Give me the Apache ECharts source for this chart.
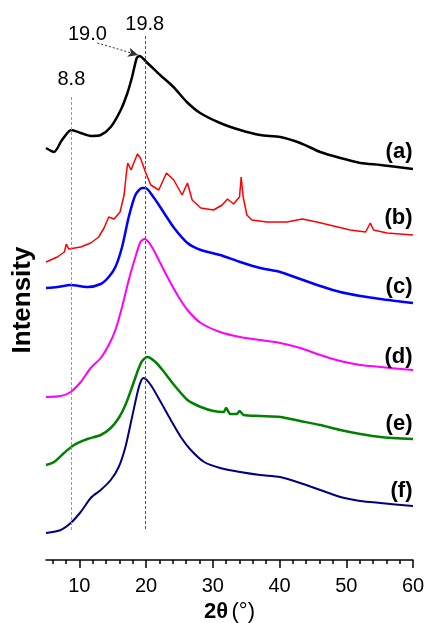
<!DOCTYPE html>
<html>
<head>
<meta charset="utf-8">
<script src="https://cdn.jsdelivr.net/npm/echarts@6/dist/echarts.min.js"></script>
<style>
html, body {margin: 0; padding: 0; background: #fff;}
#xrd {width: 427px; height: 623px;}
</style>
</head>
<body>
<div id="xrd"></div>
<script>
var FONT = "'Liberation Sans', Arial, sans-serif";

// 2theta (deg) and stacked intensity (a.u., each pattern shifted up)
var x_a = [5, 6.2, 7.4, 8.8, 10.2, 11.7, 13.2, 14.7, 16.2, 17.2, 17.9, 18.6, 19.0, 20.2, 22.1, 24.1, 26.1, 28.1, 31.1, 34.1, 37.1, 40.1, 43.1, 46.1, 49.1, 52.1, 55.1, 60];
var y_a = [412, 408, 420, 430, 427, 424, 425, 433, 450, 467, 483, 502, 504, 497, 485, 473, 458, 447, 437, 430, 425, 423, 417, 408, 402, 397, 395, 391];

var x_b = [5, 6.7, 7.75, 8.05, 8.4, 10.2, 11.7, 12.9, 13.7, 14.4, 15.2, 16.1, 16.7, 17.05, 17.25, 17.75, 18.15, 18.7, 19.15, 19.9, 20.7, 21.9, 23.05, 24.15, 25.4, 26.2, 26.9, 28.2, 30.1, 31.4, 32.2, 33.1, 33.6, 34.0, 34.25, 34.55, 35.1, 35.85, 38.1, 41.1, 43.4, 45.6, 48.1, 50.6, 52.9, 53.6, 54.1, 56.1, 60];
var y_b = [298, 303, 308, 316, 311, 313, 317, 323, 332, 343, 341, 348, 365, 387, 397, 390, 397, 406, 402, 388, 375, 370, 387, 380, 365, 377, 360, 352, 350, 355, 361, 356, 360, 363, 383, 363, 345, 340, 338, 338, 341, 338, 334, 330, 328, 337, 330, 327, 325];

var x_c = [5, 6.7, 8.7, 11.2, 13.2, 14.4, 15.4, 16.4, 17.4, 18.4, 19.4, 19.9, 21.2, 22.7, 24.2, 26.2, 28.2, 31.1, 34.1, 37.1, 40.1, 43.1, 46.1, 49.1, 52.1, 55.1, 57.5, 60];
var y_c = [272, 273, 275, 273, 276, 283, 293, 313, 343, 365, 372, 372, 362, 347, 332, 317, 310, 305, 298, 292, 288, 281, 274, 268, 264, 261, 259, 257];

var x_d = [5, 7.2, 8.7, 10.2, 11.7, 13.2, 14.4, 15.4, 16.4, 17.4, 18.4, 19.15, 19.75, 20.7, 21.9, 23.2, 24.7, 26.2, 28.2, 31.1, 34.1, 37.1, 40.1, 43.1, 46.1, 49.1, 52.1, 55.1, 60];
var y_d = [163, 164, 168, 178, 192, 202, 215, 230, 253, 280, 303, 318, 321, 315, 300, 283, 265, 250, 237, 228, 223, 220, 217, 212, 205, 199, 195, 193, 190];

var x_e = [5, 6.2, 7.7, 9.2, 11.2, 13.2, 14.7, 15.9, 16.9, 17.9, 18.8, 19.4, 20.2, 21.4, 22.7, 24.2, 26.2, 28.2, 30.1, 31.6, 32.0, 32.6, 33.6, 34.0, 34.6, 37.1, 40.1, 43.1, 46.1, 49.1, 52.1, 55.1, 60];
var y_e = [95, 98, 107, 115, 121, 125, 132, 142, 155, 173, 190, 199, 203, 198, 188, 175, 160, 153, 149, 148, 152, 146, 146, 149, 145, 144, 143, 139, 135, 130, 126, 123, 121];

var x_f = [5, 7.2, 8.7, 10.2, 11.7, 13.2, 14.7, 15.9, 16.9, 17.9, 18.8, 19.3, 19.65, 20.7, 22.2, 23.7, 25.2, 26.7, 28.7, 31.1, 34.1, 37.1, 40.1, 43.1, 46.1, 49.1, 52.1, 55.1, 60];
var y_f = [27, 30, 37, 48, 62, 70, 80, 93, 113, 143, 170, 180, 182, 175, 158, 140, 123, 110, 98, 92, 88, 85, 83, 77, 70, 63, 59, 57, 54];

var curve_names = ['(a)', '(b)', '(c)', '(d)', '(e)', '(f)'];
var curve_colors = ['#000000', '#ff0000', '#0000ff', '#ff00ff', '#008000', '#000080'];
var curve_widths = [2.5, 1.5, 2.5, 2, 2.5, 2];
var curve_label_y = [408, 342, 273, 203, 136, 69];

var major_ticks = [10, 20, 30, 40, 50, 60];
var minor_ticks = [6, 8, 12, 14, 16, 18, 22, 24, 26, 28, 32, 34, 36, 38, 42, 44, 46, 48, 52, 54, 56, 58];

// reference peak positions
var peak_88 = 8.8;
var peak_198 = 19.8;
var peak_190 = 19.0;

function pairs(xs, ys) {
    return xs.map(function (x, i) { return [x, ys[i]]; });
}

var all_x = [x_a, x_b, x_c, x_d, x_e, x_f];
var all_y = [y_a, y_b, y_c, y_d, y_e, y_f];

var xrd_chart = echarts.init(document.getElementById('xrd'));

var series = [];
for (var i = 0; i < 6; i++) {
    series.push({
        name: curve_names[i],
        type: 'line',
        data: pairs(all_x[i], all_y[i]),
        showSymbol: false,
        smooth: i === 1 ? 0 : 0.25,
        clip: false,
        lineStyle: {color: curve_colors[i], width: curve_widths[i]},
        markPoint: {
            symbol: 'circle',
            symbolSize: 1,
            itemStyle: {color: 'rgba(0,0,0,0)'},
            silent: true,
            label: {
                show: true,
                position: 'left',
                distance: 0,
                fontFamily: FONT,
                fontWeight: 'bold',
                fontSize: 22,
                color: '#000',
                formatter: curve_names[i]
            },
            data: [{coord: [60, curve_label_y[i]]}]
        }
    });
}

// dashed reference lines, peak labels and arrow, hung on curve (a)
series[0].markLine = {
    silent: true,
    animation: false,
    label: {show: false},
    symbol: ['none', 'none'],
    data: [
        [{coord: [peak_88, 463], lineStyle: {color: '#999', width: 1, type: [3, 2]}}, {coord: [peak_88, 30]}],
        [{coord: [peak_198, 524], lineStyle: {color: '#555', width: 1, type: [3, 2]}}, {coord: [peak_198, 30]}],
        [{coord: [12.7, 517], symbol: 'none', lineStyle: {color: '#333', width: 1, type: [2, 2]}},
         {coord: [18.8, 505], symbol: 'arrow', symbolSize: [7, 10]}]
    ]
};
series[0].markPoint.data.push(
    {coord: [peak_88, 481], label: {formatter: '8.8', position: 'inside', fontWeight: 'normal', fontSize: 20}},
    {coord: [peak_198, 536], label: {formatter: '19.8', position: 'inside', fontWeight: 'normal', fontSize: 20}},
    {coord: [11.2, 526], label: {formatter: '19.0', position: 'inside', fontWeight: 'normal', fontSize: 20}}
);

xrd_chart.setOption({
    animation: false,
    backgroundColor: '#fff',
    textStyle: {fontFamily: FONT},
    grid: [
        {left: 46, right: 14, top: 20, bottom: 63, outerBoundsMode: 'none', containLabel: false},
        {left: 46, right: 14, top: 20, bottom: 63, outerBoundsMode: 'none', containLabel: false}
    ],
    xAxis: [
        {
            type: 'value',
            gridIndex: 0,
            min: 5,
            max: 60,
            name: '{b|2θ} {r|(°)}',
            nameLocation: 'middle',
            nameGap: 38,
            nameTextStyle: {
                rich: {
                    b: {fontFamily: FONT, fontWeight: 'bold', fontSize: 22, color: '#000'},
                    r: {fontFamily: FONT, fontSize: 22, color: '#000'}
                }
            },
            splitLine: {show: false},
            axisLine: {show: true, lineStyle: {color: '#000', width: 1.5}},
            axisTick: {show: true, length: 8, lineStyle: {color: '#000', width: 1.5}, customValues: major_ticks},
            axisLabel: {fontFamily: FONT, fontSize: 20, color: '#000', margin: 16, customValues: major_ticks}
        },
        {
            type: 'value',
            gridIndex: 1,
            min: 5,
            max: 60,
            splitLine: {show: false},
            axisLine: {show: false},
            axisTick: {show: true, length: 4, lineStyle: {color: '#000', width: 1.5}, customValues: minor_ticks},
            axisLabel: {show: false}
        }
    ],
    yAxis: [
        {
            type: 'value',
            gridIndex: 0,
            min: 0,
            max: 540,
            name: 'Intensity',
            nameLocation: 'middle',
            nameRotate: 90,
            nameGap: 10,
            nameTextStyle: {fontFamily: FONT, fontWeight: 'bold', fontSize: 26, color: '#000', padding: [0, 20, 0, 0]},
            axisLine: {show: false},
            axisTick: {show: false},
            axisLabel: {show: false},
            splitLine: {show: false}
        },
        {
            type: 'value',
            gridIndex: 1,
            min: 0,
            max: 540,
            show: false
        }
    ],
    series: series
});
</script>
</body>
</html>
